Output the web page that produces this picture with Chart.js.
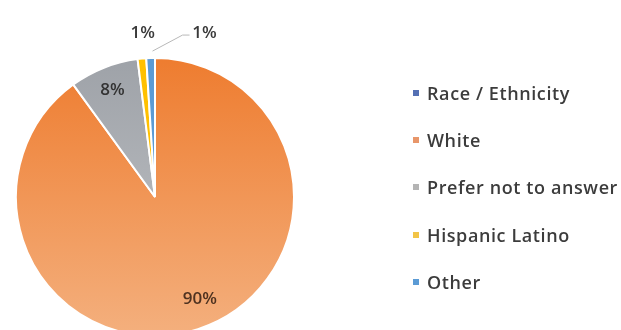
<!DOCTYPE html>
<html>
<head>
<meta charset="utf-8">
<script src="https://cdn.jsdelivr.net/npm/chart.js@4/dist/chart.umd.min.js"></script>
<style>
  html, body { margin: 0; padding: 0; background: #fff; overflow: hidden; }
  body { width: 621px; height: 330px; position: relative; }
  #wrap { position: absolute; left: 0; top: 0; width: 621px; height: 340px; }
  #legend { position: absolute; left: 413px; top: 0; font-family: "Open Sans", Lato, sans-serif; font-size: 18px; font-weight: 600; letter-spacing: 0.6px; color: #3c3c3c; }
  .item { position: absolute; white-space: nowrap; display: flex; align-items: center; }
  .swatch { width: 6px; height: 6px; margin-right: 8px; }
</style>
</head>
<body>
<div id="wrap"><canvas id="c"></canvas></div>
<div id="legend"></div>
<script>
// Survey breakdown by race / ethnicity (percent of respondents)
const categories = ["Race / Ethnicity", "White", "Prefer not to answer", "Hispanic Latino", "Other"];
const percents = [0, 90, 8, 1, 1];
const valueLabels = ["", "90%", "8%", "1%", "1%"];
const sliceColors = ["#4472C4", "#ED7D31", "#A5A7AB", "#FFC000", "#5B9BD5"];
const legendColors = ["#5470B4", "#E8966A", "#B4B4B4", "#F2C447", "#5B9BD5"];

// label placement per slice: inside labels use a radius fraction,
// outside labels use a pixel offset from the rim
const labelPlacement = [
  null,
  { inside: 0.8, turn: -0.1 },
  { inside: 0.83 },
  { dx: 1, dy: -22 },
  { dx: 54, dy: -22, leader: true }
];

const sliceLabels = {
  id: 'sliceLabels',
  afterDatasetsDraw(chart) {
    const ctx = chart.ctx;
    const meta = chart.getDatasetMeta(0);
    ctx.save();
    ctx.font = '600 17px "Open Sans", Lato, sans-serif';
    ctx.textAlign = 'center';
    ctx.textBaseline = 'middle';
    meta.data.forEach((arc, i) => {
      const text = valueLabels[i];
      const p = labelPlacement[i];
      if (!text || !p) return;
      const mid = (arc.startAngle + arc.endAngle) / 2 + (p.turn || 0);
      const cx = arc.x, cy = arc.y, r = arc.outerRadius;
      let lx, ly;
      if (p.inside !== undefined) {
        lx = cx + Math.cos(mid) * r * p.inside;
        ly = cy + Math.sin(mid) * r * p.inside;
        ctx.fillStyle = i === 1 ? '#4e3220' : '#333333';
      } else {
        const ex = cx + Math.cos(mid) * (r + 3);
        const ey = cy + Math.sin(mid) * (r + 3);
        lx = ex + p.dx;
        ly = ey + p.dy;
        if (p.leader) {
          ctx.strokeStyle = '#b8b8b8';
          ctx.lineWidth = 1;
          ctx.beginPath();
          ctx.moveTo(ex + 2, ey - 4);
          ctx.lineTo(lx - 22, ly + 2);
          ctx.lineTo(lx - 15, ly + 2);
          ctx.stroke();
        }
        ctx.fillStyle = '#3a3a3a';
      }
      ctx.fillText(text, lx, ly);
    });
    ctx.restore();
  }
};

function fillFor(ctx) {
  const i = ctx.dataIndex;
  const area = ctx.chart.chartArea;
  if (!area) return sliceColors[i];
  const g = ctx.chart.ctx.createLinearGradient(0, area.top, 0, area.bottom);
  if (i === 1) {
    g.addColorStop(0, '#EE7C2F');
    g.addColorStop(1, '#F4B07E');
  } else if (i === 2) {
    g.addColorStop(0, '#9EA2A8');
    g.addColorStop(1, '#C4C6C9');
  } else {
    return sliceColors[i];
  }
  return g;
}

new Chart(document.getElementById('c'), {
  type: 'pie',
  data: {
    labels: categories,
    datasets: [{
      data: percents,
      backgroundColor: fillFor,
      borderColor: '#ffffff',
      borderWidth: 2
    }]
  },
  options: {
    responsive: true,
    maintainAspectRatio: false,
    animation: false,
    layout: { padding: { left: 15, top: 57, right: 326, bottom: 3 } },
    plugins: { legend: { display: false }, tooltip: { enabled: false } }
  },
  plugins: [sliceLabels]
});

// legend built from the same category / colour arrays
const legendTops = [94, 141, 188, 236, 283];
const legend = document.getElementById('legend');
categories.forEach((name, i) => {
  const item = document.createElement('div');
  item.className = 'item';
  item.style.top = (legendTops[i] - 13) + 'px';
  item.innerHTML = '<span class="swatch" style="background:' + legendColors[i] + '"></span><span>' + name + '</span>';
  legend.appendChild(item);
});
</script>
</body>
</html>
